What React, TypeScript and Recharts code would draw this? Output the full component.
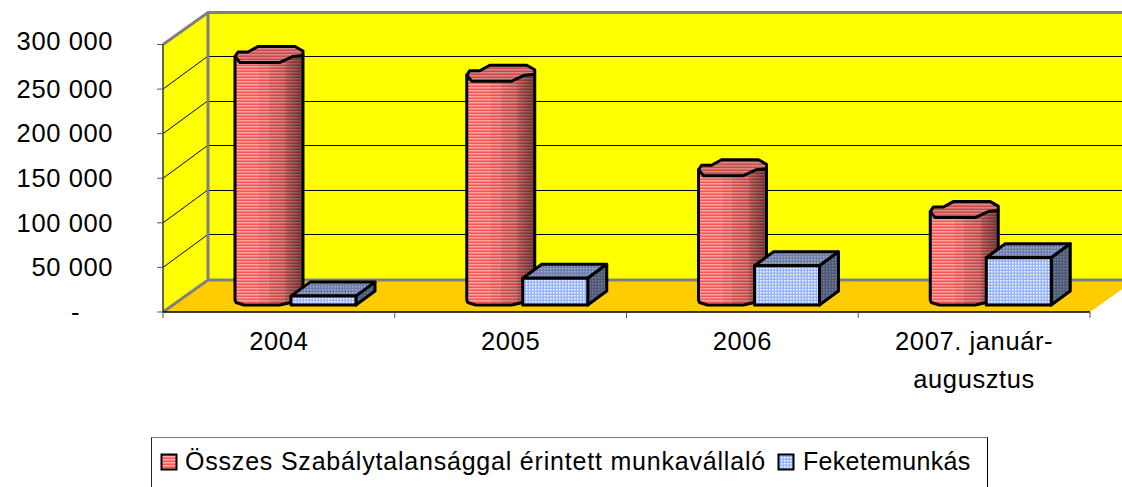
import { BarChart, Bar, XAxis, YAxis, Legend, usePlotArea } from 'recharts';

const categories = ['2004', '2005', '2006', '2007. január-\naugusztus'];
const osszesValues = [272000, 251000, 145000, 98000];
const feketeValues = [10000, 30000, 44000, 53000];
const yTicks = [0, 50000, 100000, 150000, 200000, 250000, 300000];
const seriesNames = ['Összes Szabálytalansággal érintett munkavállaló', 'Feketemunkás'];

const data = categories.map((name, i) => ({ name, osszes: osszesValues[i], fekete: feketeValues[i] }));

const FONT = '"Liberation Sans", Arial, sans-serif';
const WALL_DX = 45;
const WALL_DY = -32;
const GRID_DY = -33;
const BAR_DX = 12;
const BAR_DY = -7;
const DEPTH_DX = 19;
const DEPTH_DY = -14;

// outline of the cylinder ends, it is a rough polygon in the original
const TOP_OUTLINE = [[-34, 2], [-31, -2.5], [-21, -2.5], [-11, -8], [26, -8], [34, -3.5], [34, 1], [24, 2], [11, 8], [-29, 8]];
const BOTTOM_OUTLINE = [[34, 1], [34, 3], [24, 5], [11, 8], [-25, 8], [-33, 5.5], [-34, 3]];

const pts = (list: number[][], cx: number, cy: number) =>
  list.map(([a, b]) => `${cx + a},${cy + b}`).join(' ');

function Defs() {
  return (
    <svg width={0} height={0} style={{ position: 'absolute' }}>
      <defs>
        <pattern id="stripes" patternUnits="userSpaceOnUse" width={6} height={3}>
          <rect width={6} height={3} fill="#ff5555" />
          <rect width={6} height={1.5} fill="#ffa8a8" />
        </pattern>
        <pattern id="dots" patternUnits="userSpaceOnUse" width={3} height={3}>
          <rect width={3} height={3} fill="#98b3ff" />
          <rect x={1} y={1} width={1.5} height={1.5} fill="#fff" />
        </pattern>
        <linearGradient id="cylShade" x1="0" x2="1" y1="0" y2="0">
          <stop offset="0" stopColor="#000" stopOpacity={0.02} />
          <stop offset="0.36" stopColor="#000" stopOpacity={0.02} />
          <stop offset="0.36" stopColor="#000" stopOpacity={0.08} />
          <stop offset="0.5" stopColor="#000" stopOpacity={0.08} />
          <stop offset="0.5" stopColor="#000" stopOpacity={0.15} />
          <stop offset="0.74" stopColor="#000" stopOpacity={0.22} />
          <stop offset="0.74" stopColor="#000" stopOpacity={0.3} />
          <stop offset="1" stopColor="#000" stopOpacity={0.55} />
        </linearGradient>
      </defs>
    </svg>
  );
}

function Walls() {
  const plot = usePlotArea();
  if (!plot) return null;
  const { x, y, width, height } = plot;
  const bottom = y + height;
  const right = x + width;
  return (
    <g>
      <rect x={x + WALL_DX} y={y + WALL_DY} width={width} height={height} fill="#ffff00" />
      <polygon points={`${x},${y} ${x + WALL_DX},${y + WALL_DY} ${x + WALL_DX},${bottom + WALL_DY} ${x},${bottom}`} fill="#ffff00" />
      <polygon points={`${x},${bottom} ${right},${bottom} ${right + WALL_DX},${bottom + WALL_DY} ${x + WALL_DX},${bottom + WALL_DY}`} fill="#ffcc00" />
      {yTicks.slice(1, -1).map((t) => {
        const ty = bottom - (t / yTicks[yTicks.length - 1]) * height;
        return (
          <g key={t} stroke="#000" strokeWidth={1}>
            <line x1={x} y1={ty} x2={x + WALL_DX} y2={ty + GRID_DY} />
            <line x1={x + WALL_DX} y1={Math.round(ty + GRID_DY) + 0.5} x2={right + WALL_DX} y2={Math.round(ty + GRID_DY) + 0.5} />
          </g>
        );
      })}
      <g stroke="#808080" strokeWidth={3} fill="none">
        <polyline points={`${x},${y} ${x + WALL_DX},${y + WALL_DY} ${right + WALL_DX},${y + WALL_DY}`} />
        <line x1={x + WALL_DX} y1={y + WALL_DY} x2={x + WALL_DX} y2={bottom + WALL_DY} />
        <polyline points={`${x},${bottom} ${x + WALL_DX},${bottom + WALL_DY} ${right + WALL_DX},${bottom + WALL_DY}`} />
      </g>
    </g>
  );
}

function CylinderBar({ x, y, width, height }: any) {
  const cx = x + width / 2 + BAR_DX + DEPTH_DX / 2 + 1;
  const topY = y - 15;
  const botY = y + height - 15;
  const body = `${pts([[-34, 2]], cx, topY)} ${pts([[-34, 3]], cx, botY)} ${pts(BOTTOM_OUTLINE.slice().reverse().slice(1), cx, botY)} ${pts([[34, 1]], cx, topY)}`;
  return (
    <g>
      <polygon points={body} fill="url(#stripes)" />
      <polygon points={body} fill="url(#cylShade)" />
      <polygon points={body} fill="none" stroke="#000" strokeWidth={3} strokeLinejoin="round" />
      <polygon points={pts(TOP_OUTLINE, cx, topY)} fill="url(#stripes)" />
      <polygon points={pts(TOP_OUTLINE, cx, topY)} fill="#000" fillOpacity={0.18} stroke="#000" strokeWidth={3} strokeLinejoin="round" />
    </g>
  );
}

function BoxBar({ x, y, width, height }: any) {
  const l = x + BAR_DX;
  const r = l + width;
  const t = y + BAR_DY;
  const b = t + height;
  const top = `${l},${t} ${r},${t} ${r + DEPTH_DX},${t + DEPTH_DY} ${l + DEPTH_DX},${t + DEPTH_DY}`;
  const side = `${r},${t} ${r + DEPTH_DX},${t + DEPTH_DY} ${r + DEPTH_DX},${b + DEPTH_DY} ${r},${b}`;
  const front = `${l},${t} ${r},${t} ${r},${b} ${l},${b}`;
  return (
    <g stroke="#000" strokeWidth={3} strokeLinejoin="round">
      <polygon points={top} fill="url(#dots)" stroke="none" />
      <polygon points={top} fill="#000" fillOpacity={0.3} />
      <polygon points={side} fill="url(#dots)" stroke="none" />
      <polygon points={side} fill="#000" fillOpacity={0.5} />
      <polygon points={front} fill="url(#dots)" />
    </g>
  );
}

function YTick({ x, y, payload }: any) {
  const isZero = payload.value === 0;
  const isTop = payload.value === yTicks[yTicks.length - 1];
  const label = String(payload.value).replace(/(\d)(?=(\d{3})$)/, '$1 ');
  return (
    <text x={isZero ? x - 33 : x} y={isZero ? y : isTop ? y - 4 : y - 0.5} dy="0.36em" textAnchor="end" fontFamily={FONT} fontSize={25.5} letterSpacing={0.6} fill="#000">
      {isZero ? '-' : label}
    </text>
  );
}

function XTick({ x, y, payload, index }: any) {
  const band = 927 / categories.length;
  const lines = String(payload.value).split('\n');
  return (
    <g>
      <line x1={x - band / 2} x2={x - band / 2} y1={312} y2={318} stroke="#555" />
      {index === categories.length - 1 && <line x1={x + band / 2} x2={x + band / 2} y1={312} y2={318} stroke="#555" />}
      {lines.map((line, i) => (
        <text key={i} x={x} y={y + 30 + i * 38} textAnchor="middle" fontFamily={FONT} fontSize={25.5} letterSpacing={0.6} fill="#000">{line}</text>
      ))}
    </g>
  );
}

function LegendBox({ payload }: any) {
  return (
    <div style={{ boxSizing: 'border-box', width: 837, height: 60, border: '1.5px solid #000', borderTopColor: '#777', borderLeftColor: '#222', background: '#fff', fontFamily: FONT, fontSize: 25, color: '#000', position: 'relative' }}>
      {(payload ?? []).map((item: any, i: number) => (
        <div key={item.value} style={{ position: 'absolute', left: i === 0 ? 8 : 625, top: 9, display: 'flex', alignItems: 'center', whiteSpace: 'nowrap', letterSpacing: i === 0 ? 0.8 : 0.3 }}>
          <svg width={18} height={18} style={{ marginRight: i === 0 ? 7 : 8 }}>
            <rect x={1.5} y={1.5} width={15} height={15} fill={item.dataKey === 'osszes' ? 'url(#stripes)' : 'url(#dots)'} stroke="#000" strokeWidth={2} />
          </svg>
          <span>{item.value}</span>
        </div>
      ))}
    </div>
  );
}

export default function App() {
  return (
    <div style={{ position: 'absolute', left: 0, top: 0, width: 1122, height: 487, overflow: 'hidden', background: '#fff' }}>
      <Defs />
      <BarChart
        width={1122}
        height={487}
        data={data}
        margin={{ top: 44.5, right: 32, bottom: 115, left: 0 }}
        barSize={65}
        barGap={0}
      >
        <Walls />
        <XAxis dataKey="name" height={60} interval={0} tickLine={false} tick={<XTick />} axisLine={{ stroke: '#000', strokeWidth: 1.5 }} />
        <YAxis
          width={163}
          domain={[0, 300000]}
          ticks={yTicks}
          tickSize={6}
          tickMargin={44}
          tick={<YTick />}
          axisLine={{ stroke: '#333', strokeWidth: 1.5 }}
          tickLine={{ stroke: '#555' }}
        />
        <Legend
          layout="horizontal"
          verticalAlign="middle"
          align="center"
          itemSorter={null}
          wrapperStyle={{ left: 151, top: 437, width: 837, height: 60 }}
          content={<LegendBox />}
        />
        <Bar dataKey="osszes" name={seriesNames[0]} fill="#ff4f4f" shape={<CylinderBar />} isAnimationActive={false} />
        <Bar dataKey="fekete" name={seriesNames[1]} fill="#86a4ff" shape={<BoxBar />} isAnimationActive={false} />
      </BarChart>
    </div>
  );
}
